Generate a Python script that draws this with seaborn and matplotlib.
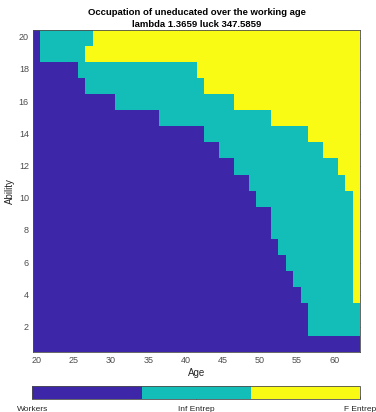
import numpy as np
import pandas as pd
import seaborn as sns
import matplotlib.pyplot as plt
from matplotlib.colors import ListedColormap

# data
ages = list(range(20, 64))
ability = list(range(20, 0, -1))
# last age as worker / last age as informal entrepreneur, for ability 20 down to 1
last_worker = [20, 20, 25, 26, 30, 36, 42, 44, 46, 48, 49, 51, 51, 52, 53, 54, 55, 56, 56, 63]
last_inf = [27, 26, 41, 42, 46, 51, 56, 58, 60, 61, 62, 62, 62, 62, 62, 62, 62, 63, 63, 63]
occ_labels = ["Workers", "Inf Entrep", "F Entrep"]
occ_colors = ["#3E26A8", "#13BEB8", "#F9FB15"]

grid = []
for lw, li in zip(last_worker, last_inf):
    row = []
    for a in ages:
        if a <= lw:
            row.append(0)
        elif a <= li:
            row.append(1)
        else:
            row.append(2)
    grid.append(row)
occ = pd.DataFrame(grid, index=ability, columns=ages)

sns.set_style("white")
plt.rcParams['font.family'] = ['Liberation Sans', 'DejaVu Sans']
txt = "#262626"
gry = "#4d4d4d"

fig = plt.figure(figsize=(3.76, 4.12), dpi=100)
ax = fig.add_axes([0.0878, 0.1466, 0.8704, 0.7815])
cax = fig.add_axes([0.086, 0.0316, 0.8725, 0.0316])

sns.heatmap(occ, ax=ax, cmap=ListedColormap(occ_colors), vmin=0, vmax=2,
            cbar_ax=cax, cbar_kws={"orientation": "horizontal"})

#ticks like matlab
xt = [20, 25, 30, 35, 40, 45, 50, 55, 60]
yt = [2, 4, 6, 8, 10, 12, 14, 16, 18, 20]
ax.set_xticks([ages.index(a) + 0.5 for a in xt])
ax.set_xticklabels([str(a) for a in xt], rotation=0)
ax.set_yticks([ability.index(b) + 0.5 for b in yt])
ax.set_yticklabels([str(b) for b in yt], rotation=0)
ax.tick_params(direction="in", top=True, right=True, length=2.5, width=0.6,
               colors=gry, labelsize=6.5, pad=3)
for s in ax.spines.values():
    s.set_visible(True)
    s.set_color(gry)
    s.set_linewidth(0.6)

ax.set_xlabel("Age", fontsize=7, color=txt, labelpad=2)
ax.set_ylabel("Ability", fontsize=7, color=txt, labelpad=3)
ax.set_title("Occupation of uneducated over the working age\nlambda 1.3659 luck 347.5859",
             fontsize=6.8, fontweight="bold", color="black", pad=2, linespacing=1.4)

cb = ax.collections[0].colorbar
cb.set_ticks([0, 1, 2])
cb.set_ticklabels(occ_labels)
cax.tick_params(direction="in", length=2, width=0.6, colors=gry,
                labelsize=6, labelcolor=txt, pad=5)
cb.outline.set_edgecolor(gry)
cb.outline.set_linewidth(0.6)

fig.savefig("out.png", dpi=100)
